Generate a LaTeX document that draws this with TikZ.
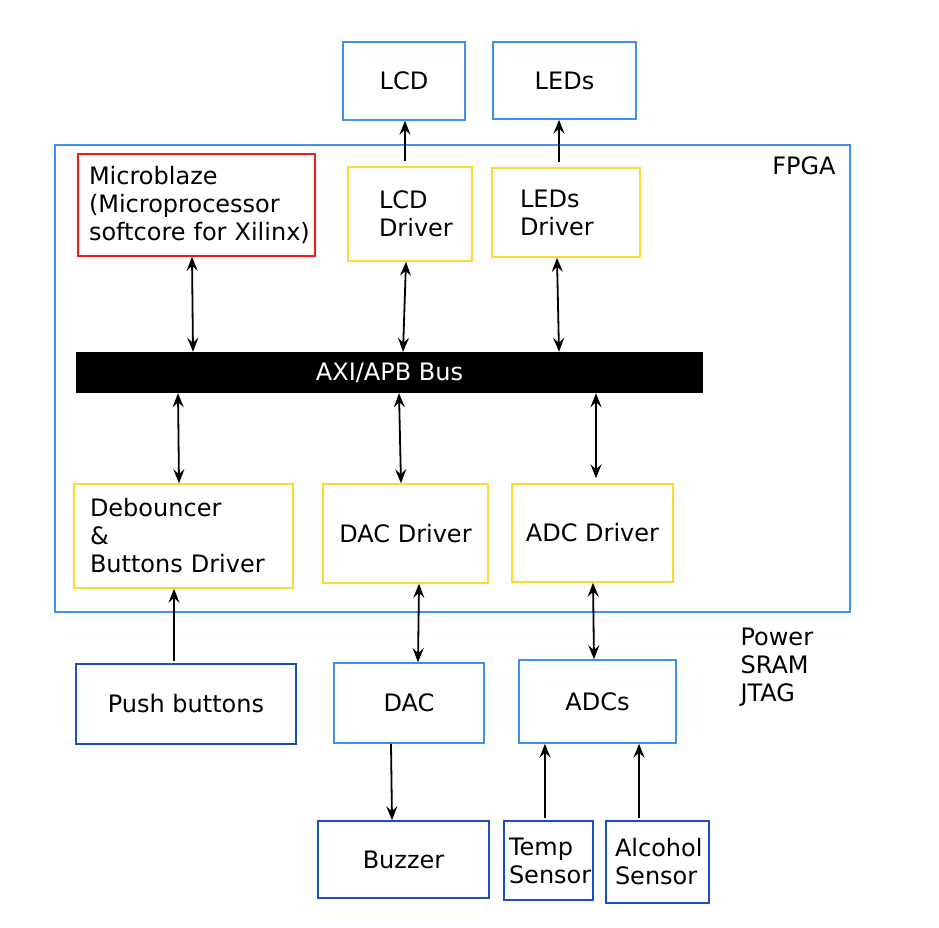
\documentclass[tikz,border=0pt]{standalone}
\usepackage{fontspec}
\setmainfont{DejaVu Sans}
\usetikzlibrary{arrows.meta}

\definecolor{fpgablue}{HTML}{3D8FF2}
\definecolor{devblue}{HTML}{1A4FC4}
\definecolor{drvyellow}{HTML}{FFD92E}
\definecolor{cpured}{HTML}{F21A1A}

\tikzset{
  box/.style={draw, line width=1.5pt, inner sep=0pt, align=center},
  extbox/.style={box, draw=fpgablue},
  devbox/.style={box, draw=devblue},
  drvbox/.style={box, draw=drvyellow},
  cpubox/.style={box, draw=cpured},
  leftbox/.style={align=left, inner ysep=0pt},
  arr/.style={->, line width=1.8pt},
  darr/.style={<->, line width=1.8pt},
}

\begin{document}
\begin{tikzpicture}[x=1pt, y=-1pt,
    font=\fontsize{24pt}{28pt}\selectfont,
    >={Stealth[length=14pt, width=11pt, inset=5pt]}]
  \useasboundingbox (0,0) rectangle (939,927);
  % FPGA container
  \node[box, draw=fpgablue, minimum width=795pt, minimum height=467pt] (fpga) at (452.5,378.5) {};
  \node (fpgalbl) at (804,166) {FPGA};
  % outputs on top
  \node[extbox, minimum width=122pt, minimum height=78pt] (lcd) at (404,81) {LCD};
  \node[extbox, minimum width=143pt, minimum height=77pt] (leds) at (564.5,80.5) {LEDs};
  % processor and drivers above the bus
  \node[cpubox, leftbox, inner xsep=11pt, text width=215pt, minimum height=102pt] (cpu) at (196.5,205)
    {Microblaze\\(Microprocessor\\\mbox{softcore for Xilinx)}};
  \node[drvbox, leftbox, inner xsep=31pt, text width=62pt, minimum height=94pt] (lcddrv) at (410,214)
    {LCD\\Driver};
  \node[drvbox, leftbox, inner xsep=28pt, text width=92pt, minimum height=89pt] (leddrv) at (566,212.5)
    {LEDs\\Driver};
  % the bus
  \node[fill=black, text=white, minimum width=627pt, minimum height=41pt, inner sep=0pt] (bus) at (389.5,372.5)
    {AXI/APB Bus};
  % drivers below the bus
  \node[drvbox, leftbox, inner xsep=16pt, text width=187pt, minimum height=104pt] (deb) at (183.5,536)
    {Debouncer\\\&\\Buttons Driver};
  \node[drvbox, minimum width=165pt, minimum height=99pt] (dacdrv) at (405.5,533.5) {DAC Driver};
  \node[drvbox, minimum width=161pt, minimum height=98pt] (adcdrv) at (592.5,533) {ADC Driver};
  % devices outside the FPGA
  \node[devbox, minimum width=220pt, minimum height=80pt] (push) at (186,704) {Push buttons};
  \node[extbox, minimum width=150pt, minimum height=80pt] (dac) at (409,703) {DAC};
  \node[extbox, minimum width=157pt, minimum height=83pt] (adcs) at (597.5,701.5) {ADCs};
  \node[devbox, minimum width=171pt, minimum height=77pt] (buzzer) at (403.5,859.5) {Buzzer};
  \node[devbox, leftbox, inner xsep=5pt, text width=79pt, minimum height=79pt] (temp) at (548.5,860.5)
    {Temp\\Sensor};
  \node[devbox, leftbox, inner xsep=9pt, text width=85pt, minimum height=82pt] (alc) at (657.5,862)
    {Alcohol\\Sensor};
  \node[align=left, anchor=north west] (misc) at (737,624) {Power\\SRAM\\JTAG};
  % connectors
  \draw[arr] ([xshift=-5pt,yshift=5pt]lcddrv.north) -- ([xshift=1pt]lcd.south);
  \draw[arr] ([xshift=-7pt,yshift=5pt]leddrv.north) -- ([xshift=-5.5pt]leds.south);
  \draw[darr] ([xshift=-4.5pt]cpu.south) -- ([xshift=-3.5pt]cpu.south |- bus.north);
  \draw[darr] ([xshift=-4pt]lcddrv.south) -- ([xshift=-7pt]lcddrv.south |- bus.north);
  \draw[darr] ([xshift=-9pt]leddrv.south) -- ([xshift=-7pt]leddrv.south |- bus.north);
  \draw[darr] ([xshift=-5.5pt]deb.north |- bus.south) -- ([xshift=-4.5pt]deb.north);
  \draw[darr] ([xshift=-6.5pt]dacdrv.north |- bus.south) -- ([xshift=-4.5pt]dacdrv.north);
  \draw[darr] ([xshift=3.5pt]adcdrv.north |- bus.south) -- ([xshift=3.5pt,yshift=5pt]adcdrv.north);
  \draw[arr] ([xshift=-12pt,yshift=2pt]push.north) -- ([xshift=-12pt]push.north |- deb.south);
  \draw[darr] ([xshift=13.5pt]dacdrv.south) -- ([xshift=9pt]dac.north);
  \draw[darr] ([xshift=0.5pt]adcdrv.south) -- ([xshift=-3.5pt]adcs.north);
  \draw[arr] ([xshift=-18pt]dac.south) -- ([xshift=-11.5pt]buzzer.north);
  \draw[arr] ([xshift=-3.5pt,yshift=2pt]temp.north) -- ([xshift=-3.5pt]temp.north |- adcs.south);
  \draw[arr] ([xshift=-18.5pt,yshift=2pt]alc.north) -- ([xshift=-18.5pt]alc.north |- adcs.south);
\end{tikzpicture}
\end{document}
